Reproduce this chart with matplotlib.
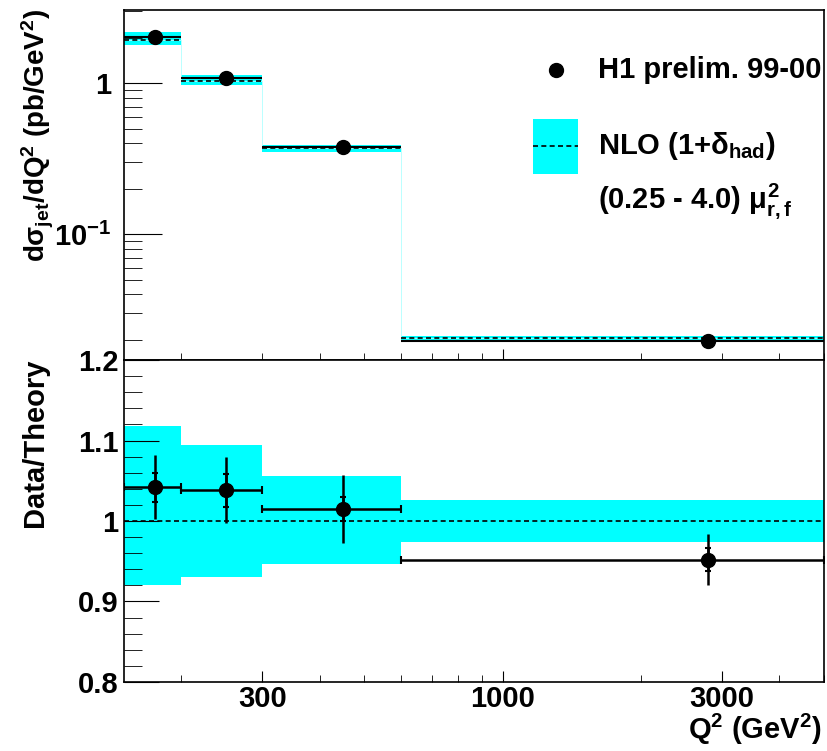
import numpy as np
import matplotlib
matplotlib.use('Agg')
from matplotlib import pyplot as plt
from matplotlib.patches import Rectangle
from matplotlib.ticker import FixedLocator, NullFormatter, FixedFormatter

plt.rcParams['font.family'] = ['Liberation Sans', 'DejaVu Sans']
plt.rcParams['font.weight'] = 'bold'
plt.rcParams['mathtext.fontset'] = 'custom'
plt.rcParams['mathtext.rm'] = 'Liberation Sans:bold'
plt.rcParams['mathtext.bf'] = 'Liberation Sans:bold'
plt.rcParams['mathtext.it'] = 'Liberation Sans'

# data
q2_edges = [150, 200, 300, 600, 5000]
q2_points = [175, 250, 450, 2800]
xsec = [2.02, 1.08, 0.377, 0.0196]
nlo = [1.94, 1.04, 0.371, 0.0206]
ratio = [1.042, 1.038, 1.015, 0.952]
ratio_stat = [0.018, 0.021, 0.015, 0.014]
ratio_tot = [0.040, 0.041, 0.042, 0.032]
band_lo = [0.920, 0.930, 0.947, 0.974]
band_hi = [1.118, 1.095, 1.056, 1.026]

cyan = '#00ffff'
fs = 21

fig = plt.figure(figsize=(8.27, 7.51), dpi=100)
ax1 = fig.add_axes([0.150, 0.5206, 0.8464, 0.4661])
ax2 = fig.add_axes([0.150, 0.0919, 0.8464, 0.4287])

xlo = np.array(q2_edges[:-1])
xhi = np.array(q2_edges[1:])
xs = np.array(q2_points)

# ---- upper panel: cross section
for i in range(len(xs)):
    ax1.fill_between([xlo[i], xhi[i]], nlo[i] * band_lo[i], nlo[i] * band_hi[i],
                     color=cyan, lw=0, zorder=1)
    ax1.plot([xlo[i], xhi[i]], [nlo[i], nlo[i]], 'k--', lw=1.2, dashes=(3, 2), zorder=2)
ax1.step(q2_edges, list(nlo) + [nlo[-1]], where='post', color='#b0ffff', lw=0.6, zorder=1)
yerr1 = np.array(xsec) * np.array(ratio_tot) / np.array(ratio)
ax1.errorbar(xs, xsec, xerr=[xs - xlo, xhi - xs], yerr=yerr1, fmt='o', color='k',
             ms=10, lw=1.5, capsize=0, zorder=3)

ax1.set_xscale('log')
ax1.set_yscale('log')
ax1.set_xlim(150, 5000)
ax1.set_ylim(0.0147, 3.05)
ax1.yaxis.set_major_locator(FixedLocator([0.1, 1]))
ax1.yaxis.set_major_formatter(FixedFormatter([r'$\mathbf{10^{-1}}$', '1']))
ax1.yaxis.set_minor_locator(FixedLocator([0.02, 0.03, 0.04, 0.05, 0.06, 0.07, 0.08, 0.09,
                                          0.2, 0.3, 0.4, 0.5, 0.6, 0.7, 0.8, 0.9, 2, 3]))
ax1.yaxis.set_minor_formatter(NullFormatter())
ax1.xaxis.set_major_locator(FixedLocator([1000]))
ax1.xaxis.set_minor_locator(FixedLocator([200, 300, 400, 500, 600, 700, 800, 900,
                                          2000, 3000, 4000, 5000]))
ax1.xaxis.set_major_formatter(NullFormatter())
ax1.xaxis.set_minor_formatter(NullFormatter())
ax1.tick_params(which='both', direction='in', top=False, right=False, labelsize=fs)
ax1.tick_params(axis='y', which='major', length=27, pad=9)
ax1.tick_params(axis='y', which='minor', length=13)
ax1.tick_params(axis='x', which='major', length=8)
ax1.tick_params(axis='x', which='minor', length=5)
ax1.set_ylabel(r'd$\sigma_{\mathbf{jet}}$/dQ$^{\mathbf{2}}$ (pb/GeV$^{\mathbf{2}}$)',
               fontsize=20, fontweight='bold', va='center')
ax1.yaxis.set_label_coords(-0.123, 0.643)

# legend
ax1.plot([0.617], [0.829], 'o', color='k', ms=10, transform=ax1.transAxes)
ax1.text(0.677, 0.829, 'H1 prelim. 99-00', transform=ax1.transAxes, fontsize=fs,
         va='center', ha='left', fontweight='bold')
ax1.add_patch(Rectangle((0.584, 0.531), 0.065, 0.158, transform=ax1.transAxes,
                        color=cyan, lw=0))
ax1.plot([0.584, 0.649], [0.612, 0.612], 'k--', lw=1.2, dashes=(3, 2), transform=ax1.transAxes)
ax1.text(0.677, 0.612, r'NLO (1+$\delta_{\mathbf{had}}$)', transform=ax1.transAxes,
         fontsize=fs, va='center', ha='left', fontweight='bold')
ax1.text(0.677, 0.455, r'(0.25 - 4.0) $\mu^{\mathbf{2}}_{\mathbf{r,f}}$', transform=ax1.transAxes,
         fontsize=fs, va='center', ha='left', fontweight='bold')

# ---- lower panel: ratio
for i in range(len(xs)):
    ax2.fill_between([xlo[i], xhi[i]], band_lo[i], band_hi[i], color=cyan, lw=0, zorder=1)
ax2.axhline(1.0, color='k', ls='--', lw=1.2, dashes=(3, 2), zorder=2)
ax2.errorbar(xs, ratio, xerr=[xs - xlo, xhi - xs], fmt='none', ecolor='k', lw=1.8,
             capsize=3, capthick=1.5, zorder=3)
ax2.errorbar(xs, ratio, yerr=ratio_tot, fmt='o', color='k', ms=10, lw=1.8,
             capsize=0, zorder=4)
ax2.errorbar(xs, ratio, yerr=ratio_stat, fmt='none', ecolor='k', lw=1.8,
             capsize=2, capthick=1.5, zorder=4)

ax2.set_xscale('log')
ax2.set_xlim(150, 5000)
ax2.set_ylim(0.8, 1.2)
ax2.yaxis.set_major_locator(FixedLocator([0.8, 0.9, 1.0, 1.1, 1.2]))
ax2.yaxis.set_major_formatter(FixedFormatter(['0.8', '0.9', '1', '1.1', '1.2']))
ax2.yaxis.set_minor_locator(FixedLocator(np.arange(0.82, 1.2, 0.02)))
ax2.xaxis.set_major_locator(FixedLocator([300, 1000, 3000]))
ax2.xaxis.set_major_formatter(FixedFormatter(['300', '1000', '3000']))
ax2.xaxis.set_minor_locator(FixedLocator([200, 400, 500, 600, 700, 800, 900,
                                          2000, 4000, 5000]))
ax2.xaxis.set_minor_formatter(NullFormatter())
ax2.tick_params(which='both', direction='in', top=False, right=False, labelsize=fs)
ax2.tick_params(axis='y', which='major', length=25, pad=4)
ax2.tick_params(axis='y', which='minor', length=13)
ax2.tick_params(axis='x', which='major', length=8, pad=2)
ax2.tick_params(axis='x', which='minor', length=5)
for lab in ax2.get_xticklabels() + ax2.get_yticklabels() + ax1.get_yticklabels():
    lab.set_fontweight('bold')
ax2.set_ylabel('Data/Theory', fontsize=fs, fontweight='bold', va='center')
ax2.yaxis.set_label_coords(-0.127, 0.742)
ax2.set_xlabel(r'Q$^{\mathbf{2}}$ (GeV$^{\mathbf{2}}$)', fontsize=fs, fontweight='bold',
               ha='right', va='center')
ax2.xaxis.set_label_coords(0.997, -0.148)

for ax in (ax1, ax2):
    for s in ax.spines.values():
        s.set_linewidth(1.2)

fig.savefig('out.png', dpi=100)
